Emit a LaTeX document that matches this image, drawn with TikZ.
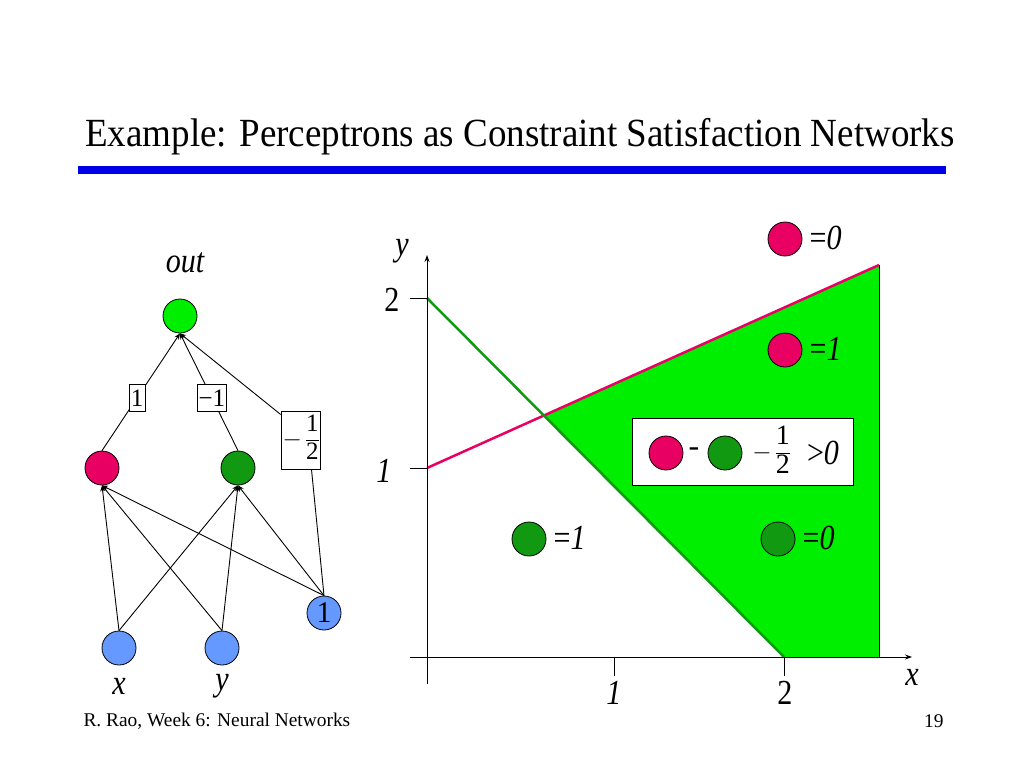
\documentclass[tikz,border=0pt]{standalone}
\usepackage{fontspec}
\setmainfont{Liberation Serif}
\usetikzlibrary{arrows.meta}
\definecolor{rred}{RGB}{232,0,98}
\definecolor{lgreen}{RGB}{0,238,0}
\definecolor{dgreen}{RGB}{17,153,17}
\definecolor{nblue}{RGB}{102,153,255}
\definecolor{tblue}{RGB}{0,0,230}
\newcommand{\myhalf}{$-\,\vcenter{\hbox{\begin{tabular}{@{}c@{}}1\\\hline 2\end{tabular}}}$}
\newcommand{\tallt}[1]{\scalebox{0.94}[1.1]{#1}}
\begin{document}
\begin{tikzpicture}[x=1pt,y=-1pt,
  unit/.style={circle,draw=black,line width=0.8pt,minimum size=34pt,inner sep=0pt},
  wbox/.style={draw=black,fill=white,line width=0.6pt,inner xsep=1.5pt,inner ysep=5.5pt,font=\fontsize{25}{27}\selectfont},
  conn/.style={line width=0.9pt,-{Stealth[length=6pt,width=5pt]}},
  lbl/.style={font=\fontsize{32}{34}\selectfont\itshape},
  txt/.style={font=\fontsize{32}{34}\selectfont},
  axisline/.style={line width=0.9pt},
]
\useasboundingbox[fill=white] (0,0) rectangle (1024,768);
% title
\node[font=\fontsize{37}{42}\selectfont, anchor=base, inner sep=0pt] (title) at (520,146) {\scalebox{1}[1.08]{Example: Perceptrons as Constraint Satisfaction Networks}};
\fill[tblue] (78,166) rectangle (946,174);
% network
\node[unit,fill=lgreen] (out) at (180,316) {};
\node[lbl] (outl) at (185,263) {\tallt{out}};
\node[unit,fill=rred] (red) at (102,468) {};
\node[unit,fill=dgreen] (grn) at (238,468) {};
\node[unit,fill=nblue] (xin) at (119,648) {};
\node[unit,fill=nblue] (yin) at (222,648) {};
\node[unit,fill=nblue,font=\fontsize{30}{32}\selectfont] (bias) at (324,613) {1};
\node[lbl] (xl) at (119,686) {\tallt{x}};
\node[lbl] (yl) at (222,686) {\tallt{y}};
\draw[conn] (red.north) -- node[wbox,pos=0.45] (w1) {1} (out.south);
\draw[conn] (grn.north) -- node[wbox,pos=0.45] (w2) {−1} (out.south);
\node[wbox,inner ysep=2pt] (w3) at (300.5,440) {\myhalf};
\draw[line width=0.9pt] (bias.north) -- ([xshift=11pt]w3.south);
\draw[conn] ([yshift=-4pt]w3.north west) -- (out.south);
\foreach \s in {xin,yin,bias}{
  \draw[conn] (\s.north) -- (red.south);
  \draw[conn] (\s.north) -- (grn.south);
}
% plot region
\fill[lgreen] (544,415.5) -- (879,265) -- (879,657) -- (784,657) -- cycle;
\draw[line width=0.8pt] (879,265) -- (879,657) -- (784,657);
\draw[rred, line width=2.5pt] (427,468) -- (879,265);
\draw[dgreen, line width=2.5pt] (427,298) -- (784,657);
% axes
\draw[axisline,-{Stealth[length=7pt,width=5pt]}] (427,684) -- (427,255);
\draw[axisline,-{Stealth[length=7pt,width=5pt]}] (410,657) -- (912,657);
\draw[axisline] (410,298) -- (427,298);
\draw[axisline] (410,468) -- (427,468);
\draw[axisline] (614,657) -- (614,676);
\draw[axisline] (784,657) -- (784,676);
\node[txt] (ty2) at (392,300) {\tallt{2}};
\node[lbl] (ty1) at (384,471) {\tallt{1}};
\node[lbl] (tx1) at (614,693) {\tallt{1}};
\node[txt] (tx2) at (785,693) {\tallt{2}};
\node[lbl] (axx) at (912,677) {\tallt{x}};
\node[lbl] (axy) at (402,251) {\tallt{y}};
% legend items
\node[unit,fill=rred] (r0) at (785,239) {};
\node[txt,anchor=west] (r0t) at (806,238) {\tallt{=\textit{0}}};
\node[unit,fill=rred] (r1) at (785,350) {};
\node[txt,anchor=west] (r1t) at (806,349) {\tallt{=\textit{1}}};
\node[draw=black,fill=white,line width=0.8pt,minimum width=221pt,minimum height=67pt,inner sep=0pt] (eqbox) at (742.5,451.5) {};
\node[unit,fill=rred] (er) at (666,453) {};
\node[txt] (em) at (694,452) {-};
\node[unit,fill=dgreen] (eg) at (725,453) {};
\node[font=\fontsize{28}{29}\selectfont] (ef) at (771,453) {\myhalf};
\node[txt] (eg0) at (823,453) {\tallt{>\textit{0}}};
\node[unit,fill=dgreen] (g1) at (529,539) {};
\node[txt,anchor=west] (g1t) at (550,538) {\tallt{=\textit{1}}};
\node[unit,fill=dgreen] (g0) at (778,539) {};
\node[txt,anchor=west] (g0t) at (799,538) {\tallt{=\textit{0}}};
% footer
\node[font=\fontsize{19.4}{21}\selectfont,anchor=base west] (foot) at (80,726) {R. Rao, Week 6: Neural Networks};
\node[font=\fontsize{19.4}{21}\selectfont,anchor=base east] (page) at (947,727) {19};
\end{tikzpicture}
\end{document}
